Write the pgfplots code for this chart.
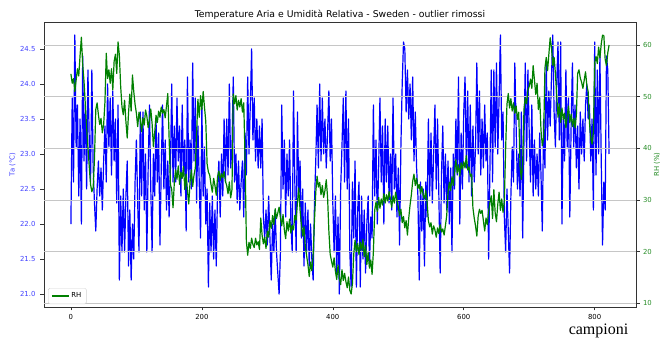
\documentclass[border=0pt]{standalone}
\usepackage{pgfplots}
\pgfplotsset{compat=1.18}
\usepackage{pgfplotstable}
\usepackage{fontspec}
\setmainfont{DejaVu Sans}
\newfontfamily\seriffont{Liberation Serif}
\definecolor{mplblue}{rgb}{0,0,1}
\definecolor{mplgreen}{rgb}{0,0.5,0}
\definecolor{tickblue}{rgb}{0.25,0.25,1}
\definecolor{tickgreen}{rgb}{0.15,0.55,0.15}

\pgfplotstableread[row sep=\\]{ta\\
22.0\\ 23.8\\ 22.6\\ 24.7\\ 23.1\\ 23.7\\ 22.4\\ 23.5\\ 22.0\\ 24.4\\
22.9\\ 23.7\\ 22.5\\ 24.2\\ 23.2\\ 22.6\\ 24.2\\ 22.8\\ 22.3\\ 21.9\\
22.5\\ 22.9\\ 22.4\\ 22.8\\ 22.2\\ 22.9\\ 23.4\\ 22.6\\ 24.0\\ 23.1\\
23.8\\ 22.7\\ 23.9\\ 22.9\\ 23.5\\ 22.3\\ 23.7\\ 21.2\\ 22.4\\ 21.6\\
22.5\\ 21.6\\ 22.4\\ 22.9\\ 21.4\\ 22.2\\ 21.2\\ 22.0\\ 21.5\\ 22.6\\
23.2\\ 22.3\\ 21.6\\ 23.6\\ 22.4\\ 23.6\\ 22.2\\ 23.0\\ 21.6\\ 22.8\\
23.7\\ 22.5\\ 21.6\\ 23.0\\ 22.4\\ 23.5\\ 22.6\\ 23.3\\ 21.7\\ 22.8\\
23.7\\ 22.5\\ 23.2\\ 22.2\\ 22.9\\ 22.1\\ 22.8\\ 24.0\\ 22.6\\ 23.4\\
22.6\\ 23.8\\ 22.9\\ 23.4\\ 22.4\\ 23.7\\ 22.7\\ 23.2\\ 21.9\\ 24.1\\
22.6\\ 23.2\\ 22.5\\ 24.3\\ 22.9\\ 23.8\\ 22.3\\ 23.4\\ 22.6\\ 21.8\\
23.7\\ 22.4\\ 23.1\\ 22.0\\ 22.5\\ 21.1\\ 22.3\\ 21.6\\ 22.4\\ 21.5\\
22.2\\ 21.4\\ 22.5\\ 22.9\\ 22.1\\ 23.0\\ 22.4\\ 23.5\\ 22.6\\ 23.5\\
22.7\\ 24.0\\ 22.8\\ 23.1\\ 24.1\\ 22.6\\ 23.0\\ 22.3\\ 22.9\\ 22.2\\
22.6\\ 22.9\\ 22.1\\ 23.3\\ 22.7\\ 24.1\\ 23.0\\ 23.7\\ 24.5\\ 23.2\\
23.8\\ 22.9\\ 23.5\\ 22.8\\ 23.4\\ 22.8\\ 23.5\\ 22.1\\ 21.8\\ 22.2\\
21.7\\ 22.4\\ 21.8\\ 21.2\\ 22.0\\ 21.6\\ 22.2\\ 21.6\\ 21.3\\ 21.0\\
21.6\\ 23.7\\ 22.5\\ 23.2\\ 22.1\\ 23.0\\ 22.4\\ 23.2\\ 22.0\\ 21.6\\
23.9\\ 22.6\\ 21.6\\ 23.6\\ 22.4\\ 22.9\\ 21.8\\ 22.5\\ 21.4\\ 22.3\\
21.6\\ 22.2\\ 21.4\\ 22.0\\ 21.5\\ 21.2\\ 22.3\\ 22.9\\ 23.7\\ 22.8\\
24.0\\ 22.9\\ 23.8\\ 23.0\\ 23.5\\ 22.8\\ 23.3\\ 23.9\\ 22.9\\ 23.5\\
22.3\\ 21.6\\ 22.4\\ 21.3\\ 22.1\\ 21.0\\ 22.5\\ 23.1\\ 23.8\\ 22.6\\
23.9\\ 22.5\\ 23.5\\ 21.6\\ 21.1\\ 22.6\\ 21.8\\ 22.9\\ 21.1\\ 22.2\\
22.6\\ 21.1\\ 22.4\\ 21.5\\ 22.2\\ 21.3\\ 22.0\\ 22.4\\ 21.4\\ 22.1\\
21.8\\ 23.7\\ 22.4\\ 23.2\\ 22.0\\ 22.8\\ 23.8\\ 22.6\\ 23.4\\ 22.0\\
23.5\\ 22.6\\ 23.4\\ 22.3\\ 23.0\\ 22.2\\ 23.8\\ 22.5\\ 23.0\\ 22.1\\
22.8\\ 21.7\\ 23.1\\ 24.0\\ 24.6\\ 24.5\\ 23.6\\ 24.2\\ 23.5\\ 24.0\\
23.2\\ 24.1\\ 22.9\\ 23.6\\ 22.8\\ 22.4\\ 21.2\\ 22.6\\ 21.9\\ 22.5\\
21.4\\ 22.6\\ 22.1\\ 23.5\\ 22.4\\ 23.3\\ 22.3\\ 23.0\\ 23.7\\ 22.5\\
23.5\\ 22.4\\ 21.3\\ 22.7\\ 23.4\\ 22.3\\ 23.0\\ 22.2\\ 22.9\\ 22.0\\
22.8\\ 21.6\\ 23.0\\ 22.5\\ 23.5\\ 22.7\\ 24.1\\ 22.0\\ 23.3\\ 22.5\\
23.6\\ 24.1\\ 22.8\\ 23.9\\ 22.6\\ 23.7\\ 22.4\\ 23.4\\ 22.6\\ 23.1\\
24.3\\ 23.0\\ 23.9\\ 22.7\\ 23.5\\ 22.8\\ 23.7\\ 22.9\\ 23.3\\ 21.5\\
22.8\\ 24.2\\ 22.6\\ 24.2\\ 23.1\\ 24.3\\ 23.0\\ 23.8\\ 24.7\\ 23.2\\
23.6\\ 22.1\\ 21.6\\ 22.5\\ 21.9\\ 21.3\\ 22.4\\ 23.1\\ 22.6\\ 24.3\\
23.4\\ 22.5\\ 23.0\\ 22.4\\ 23.6\\ 21.8\\ 23.2\\ 24.3\\ 22.9\\ 24.2\\
23.3\\ 22.6\\ 23.7\\ 22.4\\ 23.2\\ 22.5\\ 23.0\\ 22.4\\ 23.3\\ 22.7\\
21.9\\ 23.5\\ 22.8\\ 24.3\\ 23.2\\ 23.9\\ 23.4\\ 24.1\\ 24.7\\ 23.6\\
23.1\\ 24.0\\ 24.6\\ 23.2\\ 24.6\\ 22.0\\ 23.5\\ 22.9\\ 24.2\\ 23.1\\
23.8\\ 22.1\\ 23.4\\ 24.3\\ 23.1\\ 23.7\\ 22.8\\ 23.4\\ 22.5\\ 23.6\\
23.0\\ 23.5\\ 22.9\\ 23.7\\ 24.0\\ 23.5\\ 23.7\\ 22.9\\ 23.5\\ 22.2\\
24.6\\ 22.7\\ 24.2\\ 23.0\\ 24.4\\ 22.9\\ 21.7\\ 22.6\\ 22.2\\ 24.4\\
24.2\\ 23.0\\
}\tadata

\pgfplotstableread[row sep=\\]{rh\\
54.4\\ 52.6\\ 53.5\\ 51.0\\ 53.2\\ 55.4\\ 54.0\\ 58.0\\ 61.5\\ 56.2\\
53.0\\ 48.5\\ 44.0\\ 40.2\\ 36.5\\ 33.0\\ 31.6\\ 32.4\\ 38.0\\ 47.5\\
48.8\\ 46.5\\ 44.6\\ 45.8\\ 43.0\\ 44.6\\ 49.0\\ 58.4\\ 53.5\\ 55.2\\
52.6\\ 55.4\\ 51.3\\ 56.8\\ 58.2\\ 54.5\\ 60.6\\ 58.0\\ 52.0\\ 48.0\\
46.5\\ 49.3\\ 45.2\\ 42.0\\ 46.8\\ 50.5\\ 47.2\\ 54.2\\ 51.0\\ 48.5\\
46.8\\ 44.2\\ 47.0\\ 45.6\\ 43.2\\ 45.9\\ 44.5\\ 47.4\\ 46.2\\ 44.0\\
45.5\\ 47.6\\ 44.8\\ 40.3\\ 43.0\\ 46.4\\ 45.0\\ 47.2\\ 46.0\\ 48.0\\
46.8\\ 47.5\\ 45.9\\ 48.2\\ 50.6\\ 42.0\\ 33.0\\ 32.0\\ 28.5\\ 33.5\\
35.8\\ 34.0\\ 36.6\\ 33.0\\ 35.4\\ 34.2\\ 36.5\\ 32.0\\ 35.0\\ 31.8\\
29.2\\ 33.5\\ 35.8\\ 32.6\\ 34.8\\ 36.2\\ 43.0\\ 49.5\\ 46.0\\ 50.2\\
47.5\\ 51.0\\ 48.0\\ 45.2\\ 37.0\\ 35.4\\ 34.8\\ 33.0\\ 31.5\\ 34.2\\
32.8\\ 30.9\\ 34.5\\ 35.6\\ 33.8\\ 35.1\\ 34.3\\ 35.5\\ 33.6\\ 32.8\\
31.2\\ 33.5\\ 30.4\\ 32.0\\ 50.5\\ 48.6\\ 50.2\\ 47.4\\ 49.3\\ 48.0\\
49.6\\ 47.0\\ 48.8\\ 38.0\\ 22.0\\ 19.3\\ 21.8\\ 20.6\\ 22.6\\ 21.4\\
20.8\\ 22.6\\ 21.3\\ 21.9\\ 20.4\\ 26.5\\ 23.2\\ 21.5\\ 22.8\\ 20.6\\
24.0\\ 22.8\\ 26.0\\ 24.5\\ 27.0\\ 25.2\\ 28.3\\ 26.4\\ 27.5\\ 28.6\\
26.6\\ 25.0\\ 27.2\\ 24.2\\ 22.5\\ 25.8\\ 24.0\\ 26.3\\ 23.6\\ 25.1\\
24.2\\ 27.0\\ 26.1\\ 29.5\\ 32.3\\ 28.0\\ 25.3\\ 23.0\\ 24.8\\ 21.0\\
19.2\\ 17.5\\ 15.2\\ 18.0\\ 16.3\\ 19.5\\ 26.0\\ 31.5\\ 34.6\\ 32.5\\
33.4\\ 31.0\\ 32.8\\ 30.5\\ 31.8\\ 33.9\\ 30.6\\ 24.0\\ 19.5\\ 18.2\\
17.0\\ 18.8\\ 16.2\\ 14.6\\ 17.4\\ 15.0\\ 13.6\\ 16.5\\ 14.4\\ 15.8\\
14.2\\ 13.0\\ 15.1\\ 12.5\\ 11.8\\ 13.8\\ 19.5\\ 22.2\\ 20.0\\ 21.6\\
19.4\\ 21.8\\ 20.3\\ 22.4\\ 19.0\\ 21.2\\ 17.5\\ 19.8\\ 16.8\\ 18.4\\
15.6\\ 20.0\\ 28.0\\ 29.6\\ 27.8\\ 30.5\\ 28.4\\ 30.2\\ 29.0\\ 31.2\\
29.4\\ 31.0\\ 29.8\\ 31.6\\ 30.2\\ 28.6\\ 30.8\\ 29.4\\ 31.5\\ 30.0\\
28.6\\ 27.0\\ 28.2\\ 25.6\\ 26.8\\ 24.6\\ 26.0\\ 23.2\\ 26.5\\ 29.0\\
31.0\\ 33.6\\ 35.0\\ 32.8\\ 34.2\\ 32.2\\ 33.0\\ 31.2\\ 32.6\\ 31.0\\
30.2\\ 31.8\\ 29.6\\ 26.0\\ 24.8\\ 25.6\\ 23.4\\ 25.0\\ 24.2\\ 22.8\\
24.6\\ 23.5\\ 25.2\\ 23.8\\ 24.4\\ 23.2\\ 25.0\\ 27.0\\ 31.5\\ 33.4\\
31.8\\ 34.5\\ 32.8\\ 35.6\\ 37.8\\ 35.2\\ 36.8\\ 34.6\\ 37.2\\ 36.0\\
37.4\\ 36.2\\ 38.6\\ 35.8\\ 36.4\\ 34.6\\ 35.0\\ 28.5\\ 26.5\\ 25.0\\
23.0\\ 26.8\\ 28.2\\ 27.4\\ 28.0\\ 26.0\\ 24.0\\ 26.5\\ 25.2\\ 27.8\\
29.5\\ 30.8\\ 26.4\\ 32.0\\ 27.5\\ 25.8\\ 29.2\\ 31.5\\ 28.0\\ 30.2\\
27.6\\ 29.8\\ 40.0\\ 48.5\\ 50.6\\ 47.8\\ 49.6\\ 47.2\\ 48.8\\ 46.8\\
48.2\\ 45.6\\ 47.0\\ 36.5\\ 34.0\\ 37.0\\ 47.5\\ 49.8\\ 48.6\\ 51.2\\
52.0\\ 53.4\\ 51.6\\ 56.0\\ 53.2\\ 50.4\\ 52.6\\ 47.5\\ 49.8\\ 43.5\\
40.5\\ 42.0\\ 55.5\\ 57.6\\ 55.0\\ 58.2\\ 61.4\\ 59.5\\ 56.0\\ 57.6\\
54.5\\ 50.2\\ 46.0\\ 48.6\\ 45.0\\ 47.8\\ 45.6\\ 46.8\\ 44.0\\ 46.2\\
48.2\\ 45.0\\ 46.6\\ 44.2\\ 45.8\\ 43.9\\ 46.4\\ 54.5\\ 55.2\\ 53.6\\
52.8\\ 51.6\\ 53.2\\ 54.8\\ 52.2\\ 51.0\\ 45.0\\ 42.0\\ 40.8\\ 43.0\\
56.5\\ 57.8\\ 56.4\\ 59.6\\ 57.5\\ 60.2\\ 61.9\\ 61.8\\ 57.2\\ 56.0\\
58.5\\ 60.0\\
}\rhdata

\pgfplotsset{
  base/.style={
    scale only axis, width=592pt, height=285pt,
    at={(0,0)}, anchor=south west,
    xmin=-41.1, xmax=863.1,
    tick label style={font=\fontsize{6.9}{8}\selectfont},
    label style={font=\fontsize{6.9}{8}\selectfont},
    /pgf/number format/assume math mode=true,
    tick align=outside, major tick length=3.5pt,
    axis line style={black!80, line width=0.6pt},
    tick style={black!80, line width=0.6pt},
  }
}

\begin{document}
\begin{tikzpicture}
\path[use as bounding box] (-44pt,-33pt) rectangle (623pt,307pt);
\begin{axis}[base,
  ymin=20.815, ymax=24.885,
  xtick={0,200,400,600,800}, xtick pos=bottom,
  ytick={21,21.5,22,22.5,23,23.5,24,24.5}, ytick pos=left,
  yticklabel style={text=tickblue, xshift=-1.5pt, /pgf/number format/.cd, fixed, fixed zerofill, precision=1},
  title={Temperature Aria e Umidità Relativa - Sweden - outlier rimossi},
  title style={font=\fontsize{9.3}{11}\selectfont, at={(axis description cs:0.5,1)}, anchor=base, yshift=-2pt},
  ylabel={Ta (°C)},
  ylabel style={text=tickblue, at={(axis description cs:-0.0532,0.5)}, anchor=center},
  xlabel={campioni},
  xlabel style={at={(axis description cs:0.993,-0.0825)}, anchor=east, font=\seriffont\fontsize{16}{18}\selectfont},
]
\addplot[mplblue, line width=1.2pt, line join=round] table[x expr=2*\coordindex, y=ta] {\tadata};
\end{axis}
\begin{axis}[base,
  ymin=9.28, ymax=64.45,
  hide x axis,
  axis y line*=right,
  ytick={10,20,30,40,50,60}, ytick pos=right,
  yticklabel style={text=tickgreen},
  ymajorgrids, grid style={gray!45, line width=0.8pt},
  ylabel={RH (\%)},
  ylabel style={text=tickgreen, at={(axis description cs:1.0355,0.5)}, anchor=center},
  legend style={at={(axis description cs:0.0068,0.0105)}, anchor=south west,
    font=\fontsize{6.9}{8}\selectfont, draw=gray!35, rounded corners=1.5pt,
    inner xsep=3pt, inner ysep=2.5pt},
  legend image code/.code={\draw[mplgreen, line width=1.2pt] (0pt,0pt) -- (17pt,0pt);},
]
\addplot[mplgreen, line width=1.2pt, line join=round] table[x expr=2*\coordindex, y=rh] {\rhdata};
\addlegendentry{RH}
\end{axis}
\end{tikzpicture}
\end{document}
